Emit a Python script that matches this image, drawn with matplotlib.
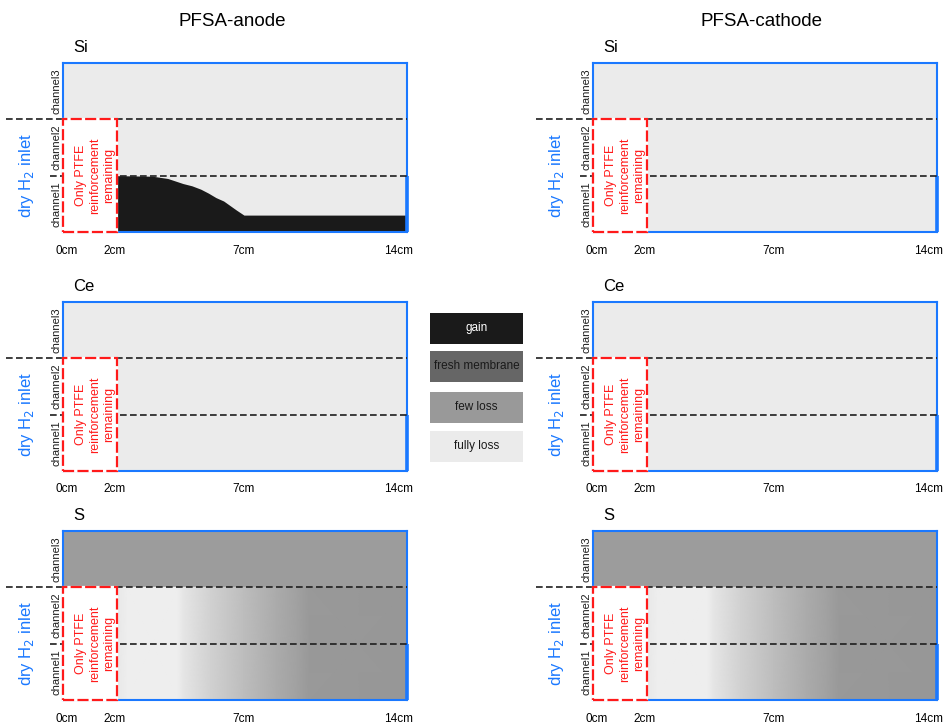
import matplotlib.pyplot as plt
import numpy as np
from matplotlib.patches import Rectangle
from matplotlib.transforms import blended_transform_factory, ScaledTranslation

plt.rcParams['font.family'] = ['Liberation Sans', 'DejaVu Sans']

# ---------------------------------------------------------------------------
# Data
# ---------------------------------------------------------------------------
COLUMNS = ["PFSA-anode", "PFSA-cathode"]
ELEMENTS = ["Si", "Ce", "S"]
CHANNELS = ["channel1", "channel2", "channel3"]
TICKS_CM = [0, 2, 7, 14]
TICK_LABELS = ["0cm", "2cm", "7cm", "14cm"]
PTFE_END_CM = 2.0
PTFE_TOP_CH = 2.0

LEGEND_LABELS = ["gain", "fresh membrane", "few loss", "fully loss"]
LEGEND_COLORS = ["#1a1a1a", "#666666", "#999999", "#ebebeb"]
LEGEND_TEXT = ["white", "#1a1a1a", "#1a1a1a", "#1a1a1a"]

# Si / anode: height of the "gain" region (in channel units) along the cell
SI_X = [2.0, 3.4, 3.7, 4.0, 4.2, 4.6, 4.95, 5.3, 5.6, 5.9, 6.2, 6.45, 6.7, 7.0, 14.0]
SI_H = [1.0, 0.99, 0.97, 0.95, 0.92, 0.86, 0.82, 0.76, 0.69, 0.61, 0.55, 0.47, 0.39, 0.30, 0.30]

# S: grey level across channels 1-2 along the cell (0 = black, 1 = white)
S_X = [2.0, 2.4, 4.4, 4.6, 5.7, 7.0, 8.4, 9.3, 9.8, 14.0]
S_GRAY = [0.91, 0.93, 0.93, 0.90, 0.82, 0.74, 0.67, 0.63, 0.60, 0.59]
S_CH3_GRAY = 0.61

BLUE = "#1a78ff"
BG = "#ebebeb"

# schematic is not to scale: piecewise mapping cm -> axis fraction
KNOT_CM = [0, 2, 7, 14]
KNOT_FRAC = [0, 0.157, 0.526, 1.0]


def fwd(x):
    return np.interp(x, KNOT_CM, KNOT_FRAC)


def inv(f):
    return np.interp(f, KNOT_FRAC, KNOT_CM)


W, H = 945, 724
COL_LEFT = [63, 593]
ROW_TOP = [63, 302, 531]
AX_W, AX_H = 344, 169


def px(fig, dx, dy=0):
    return ScaledTranslation(dx / 100, dy / 100, fig.dpi_scale_trans)


def draw_panel(fig, ax, element, column):
    ax.set_xscale('function', functions=(fwd, inv))
    ax.set_xlim(0, 14)
    ax.set_ylim(0, 3)
    ax.set_facecolor(BG)
    ax.set_yticks([])
    ax.set_xticks(TICKS_CM, TICK_LABELS)
    ax.tick_params(axis='x', length=0, pad=9, labelsize=8.5)
    labels = ax.get_xticklabels()
    labels[0].set_transform(labels[0].get_transform() + px(fig, 4))
    labels[1].set_transform(labels[1].get_transform() + px(fig, -2))
    labels[-1].set_horizontalalignment('right')
    labels[-1].set_transform(labels[-1].get_transform() + px(fig, 6))
    for sp in ax.spines.values():
        sp.set_color(BLUE)
        sp.set_linewidth(1.5)

    if element == "Si" and column == 0:
        ax.fill_between(SI_X, 0, SI_H, color=LEGEND_COLORS[0], lw=0, zorder=1)
    if element == "S":
        ax.axhspan(2, 3, color=str(S_CH3_GRAY), lw=0, zorder=1)
        xx, yy = np.meshgrid(S_X, [0, 2])
        cc = np.vstack([S_GRAY, S_GRAY])
        ax.pcolormesh(xx, yy, cc, cmap='gray', vmin=0, vmax=1, shading='gouraud', zorder=1)

    # thicker right edge on channel1
    ax.plot([14, 14], [0, 1], color=BLUE, lw=2.6, clip_on=False, zorder=3, solid_capstyle='butt')

    trans = blended_transform_factory(ax.transAxes, ax.transData)
    ax.plot([-0.165, 1], [2, 2], color="#1e1e1e", lw=1.2, dashes=(4, 2),
            transform=trans, clip_on=False, zorder=3)
    ax.plot([-0.037, 1], [1, 1], color="#1e1e1e", lw=1.2, dashes=(4, 2),
            transform=trans, clip_on=False, zorder=3)

    # PTFE-only region
    ax.add_patch(Rectangle((0, 0), PTFE_END_CM, PTFE_TOP_CH, facecolor="white",
                           edgecolor="white", lw=1.6, zorder=4, clip_on=False))
    ax.add_patch(Rectangle((0, 0), PTFE_END_CM, PTFE_TOP_CH, facecolor="none",
                           edgecolor="#ff1a1a", lw=1.6, linestyle=(0, (5, 1.5)),
                           zorder=5, clip_on=False))
    ax.text(PTFE_END_CM / 2, PTFE_TOP_CH / 2, "Only PTFE\nreinforcement\nremaining",
            transform=ax.transData + px(fig, 5), rotation=90, ha='center', va='center',
            color="#ff1a1a", fontsize=9, linespacing=1.25, zorder=6)

    for i, name in enumerate(CHANNELS):
        ax.text(0, i + 0.5, name, transform=trans + px(fig, -1.5), rotation=90,
                ha='right', va='center', fontsize=8, color="#1a1a1a", zorder=6)
    ax.text(-0.105, 1.0, "dry H$_2$ inlet", transform=trans, rotation=90,
            ha='center', va='center', fontsize=12, color=BLUE)
    ax.text(0.029, 1.0 + 16 / AX_H, element, transform=ax.transAxes,
            ha='left', va='center', fontsize=12)


fig = plt.figure(figsize=(W / 100, H / 100), dpi=100)

for c, col in enumerate(COLUMNS):
    for r, el in enumerate(ELEMENTS):
        ax = fig.add_axes([COL_LEFT[c] / W, 1 - (ROW_TOP[r] + AX_H) / H, AX_W / W, AX_H / H])
        draw_panel(fig, ax, el, c)
    fig.text((COL_LEFT[c] + AX_W / 2 - 3) / W, 1 - 22 / H, col, ha='center', va='center',
             fontsize=13.5)

# legend boxes in the middle
lax = fig.add_axes([430 / W, 1 - 463 / H, 93 / W, 150 / H])
lax.set_xlim(0, 93)
lax.set_ylim(463, 313)
lax.axis('off')
box_tops = [313, 351, 392, 431]
for top, lab, colr, tc in zip(box_tops, LEGEND_LABELS, LEGEND_COLORS, LEGEND_TEXT):
    lax.add_patch(Rectangle((0, top), 93, 31, facecolor=colr, lw=0))
    lax.text(46.5, top + 15.5, lab, ha='center', va='center', fontsize=8.5, color=tc)

fig.savefig("out.png", dpi=100)
